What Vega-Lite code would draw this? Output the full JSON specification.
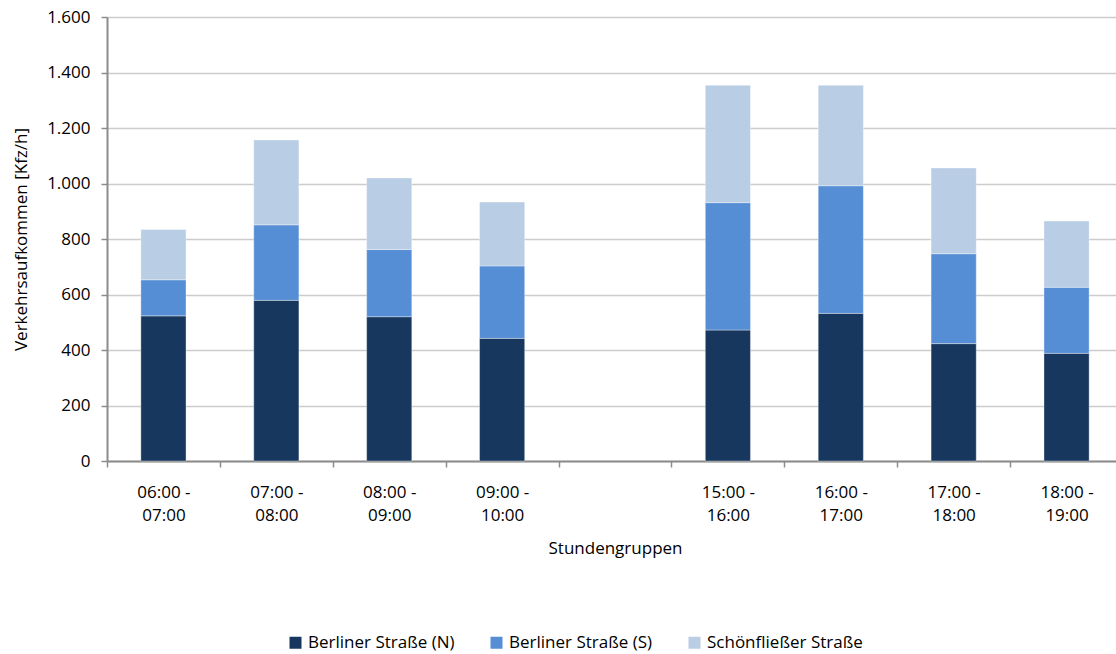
{
  "$schema": "https://vega.github.io/schema/vega-lite/v6.json",
  "width": 1009,
  "height": 444,
  "autosize": {"type": "none"},
  "padding": {"left": 107, "top": 17, "right": 0, "bottom": 193},
  "background": "white",
  "config": {
    "font": "Open Sans",
    "view": {"stroke": null}
  },
  "data": {
    "values": [
      {"zeit": "06:00 -|07:00", "strasse": "Berliner Straße (N)", "wert": 523},
      {"zeit": "06:00 -|07:00", "strasse": "Berliner Straße (S)", "wert": 130},
      {"zeit": "06:00 -|07:00", "strasse": "Schönfließer Straße", "wert": 181},
      {"zeit": "07:00 -|08:00", "strasse": "Berliner Straße (N)", "wert": 579},
      {"zeit": "07:00 -|08:00", "strasse": "Berliner Straße (S)", "wert": 272},
      {"zeit": "07:00 -|08:00", "strasse": "Schönfließer Straße", "wert": 306},
      {"zeit": "08:00 -|09:00", "strasse": "Berliner Straße (N)", "wert": 520},
      {"zeit": "08:00 -|09:00", "strasse": "Berliner Straße (S)", "wert": 242},
      {"zeit": "08:00 -|09:00", "strasse": "Schönfließer Straße", "wert": 258},
      {"zeit": "09:00 -|10:00", "strasse": "Berliner Straße (N)", "wert": 442},
      {"zeit": "09:00 -|10:00", "strasse": "Berliner Straße (S)", "wert": 261},
      {"zeit": "09:00 -|10:00", "strasse": "Schönfließer Straße", "wert": 230},
      {"zeit": "15:00 -|16:00", "strasse": "Berliner Straße (N)", "wert": 472},
      {"zeit": "15:00 -|16:00", "strasse": "Berliner Straße (S)", "wert": 459},
      {"zeit": "15:00 -|16:00", "strasse": "Schönfließer Straße", "wert": 423},
      {"zeit": "16:00 -|17:00", "strasse": "Berliner Straße (N)", "wert": 532},
      {"zeit": "16:00 -|17:00", "strasse": "Berliner Straße (S)", "wert": 460},
      {"zeit": "16:00 -|17:00", "strasse": "Schönfließer Straße", "wert": 362},
      {"zeit": "17:00 -|18:00", "strasse": "Berliner Straße (N)", "wert": 423},
      {"zeit": "17:00 -|18:00", "strasse": "Berliner Straße (S)", "wert": 324},
      {"zeit": "17:00 -|18:00", "strasse": "Schönfließer Straße", "wert": 309},
      {"zeit": "18:00 -|19:00", "strasse": "Berliner Straße (N)", "wert": 388},
      {"zeit": "18:00 -|19:00", "strasse": "Berliner Straße (S)", "wert": 238},
      {"zeit": "18:00 -|19:00", "strasse": "Schönfließer Straße", "wert": 239}
    ]
  },
  "mark": {"type": "bar", "width": {"band": 0.4}, "stroke": "#ffffff", "strokeWidth": 0.6, "strokeOpacity": 0.6},
  "encoding": {
    "x": {
      "field": "zeit",
      "type": "nominal",
      "sort": null,
      "scale": {
        "domain": ["06:00 -|07:00", "07:00 -|08:00", "08:00 -|09:00", "09:00 -|10:00", "gap", "15:00 -|16:00", "16:00 -|17:00", "17:00 -|18:00", "18:00 -|19:00"],
        "range": [0, 1016],
        "paddingInner": 0,
        "paddingOuter": 0
      },
      "axis": {
        "title": "Stundengruppen",
        "titleFontSize": 17,
        "titleFontWeight": "normal",
        "titleColor": "#000000",
        "titlePadding": 17,
        "labelExpr": "datum.label == 'gap' ? '' : split(datum.label, '|')",
        "labelAngle": 0,
        "labelFontSize": 17,
        "labelColor": "#000000",
        "labelLineHeight": 23,
        "labelPadding": 17,
        "tickBand": "extent",
        "tickSize": 6,
        "tickColor": "#8c8c8c",
        "tickWidth": 1.5,
        "domainColor": "#8c8c8c",
        "domainWidth": 2,
        "grid": false
      }
    },
    "y": {
      "field": "wert",
      "type": "quantitative",
      "stack": "zero",
      "scale": {"domain": [0, 1600], "nice": false},
      "axis": {
        "title": "Verkehrsaufkommen [Kfz/h]",
        "titleFontSize": 17,
        "titleFontWeight": "normal",
        "titleColor": "#000000",
        "titlePadding": 16,
        "values": [0, 200, 400, 600, 800, 1000, 1200, 1400, 1600],
        "labelExpr": "replace(format(datum.value, ','), ',', '.')",
        "labelFontSize": 17,
        "labelColor": "#000000",
        "labelPadding": 11,
        "tickSize": 6,
        "tickColor": "#8c8c8c",
        "tickWidth": 1.5,
        "domainColor": "#8c8c8c",
        "domainWidth": 2,
        "grid": true,
        "gridColor": "#cccccc",
        "gridWidth": 1.5
      }
    },
    "order": {"field": "strasse", "type": "nominal", "sort": "ascending"},
    "color": {
      "field": "strasse",
      "type": "nominal",
      "scale": {
        "domain": ["Berliner Straße (N)", "Berliner Straße (S)", "Schönfließer Straße"],
        "range": ["#17375e", "#558ed5", "#b9cde5"]
      },
      "legend": {
        "title": null,
        "orient": "none",
        "direction": "horizontal",
        "legendX": 180,
        "legendY": 617,
        "symbolType": "square",
        "symbolSize": 144,
        "symbolStrokeWidth": 0,
        "labelFontSize": 17,
        "labelColor": "#000000",
        "labelOffset": 4,
        "columnPadding": 33,
        "labelLimit": 300
      }
    }
  }
}
